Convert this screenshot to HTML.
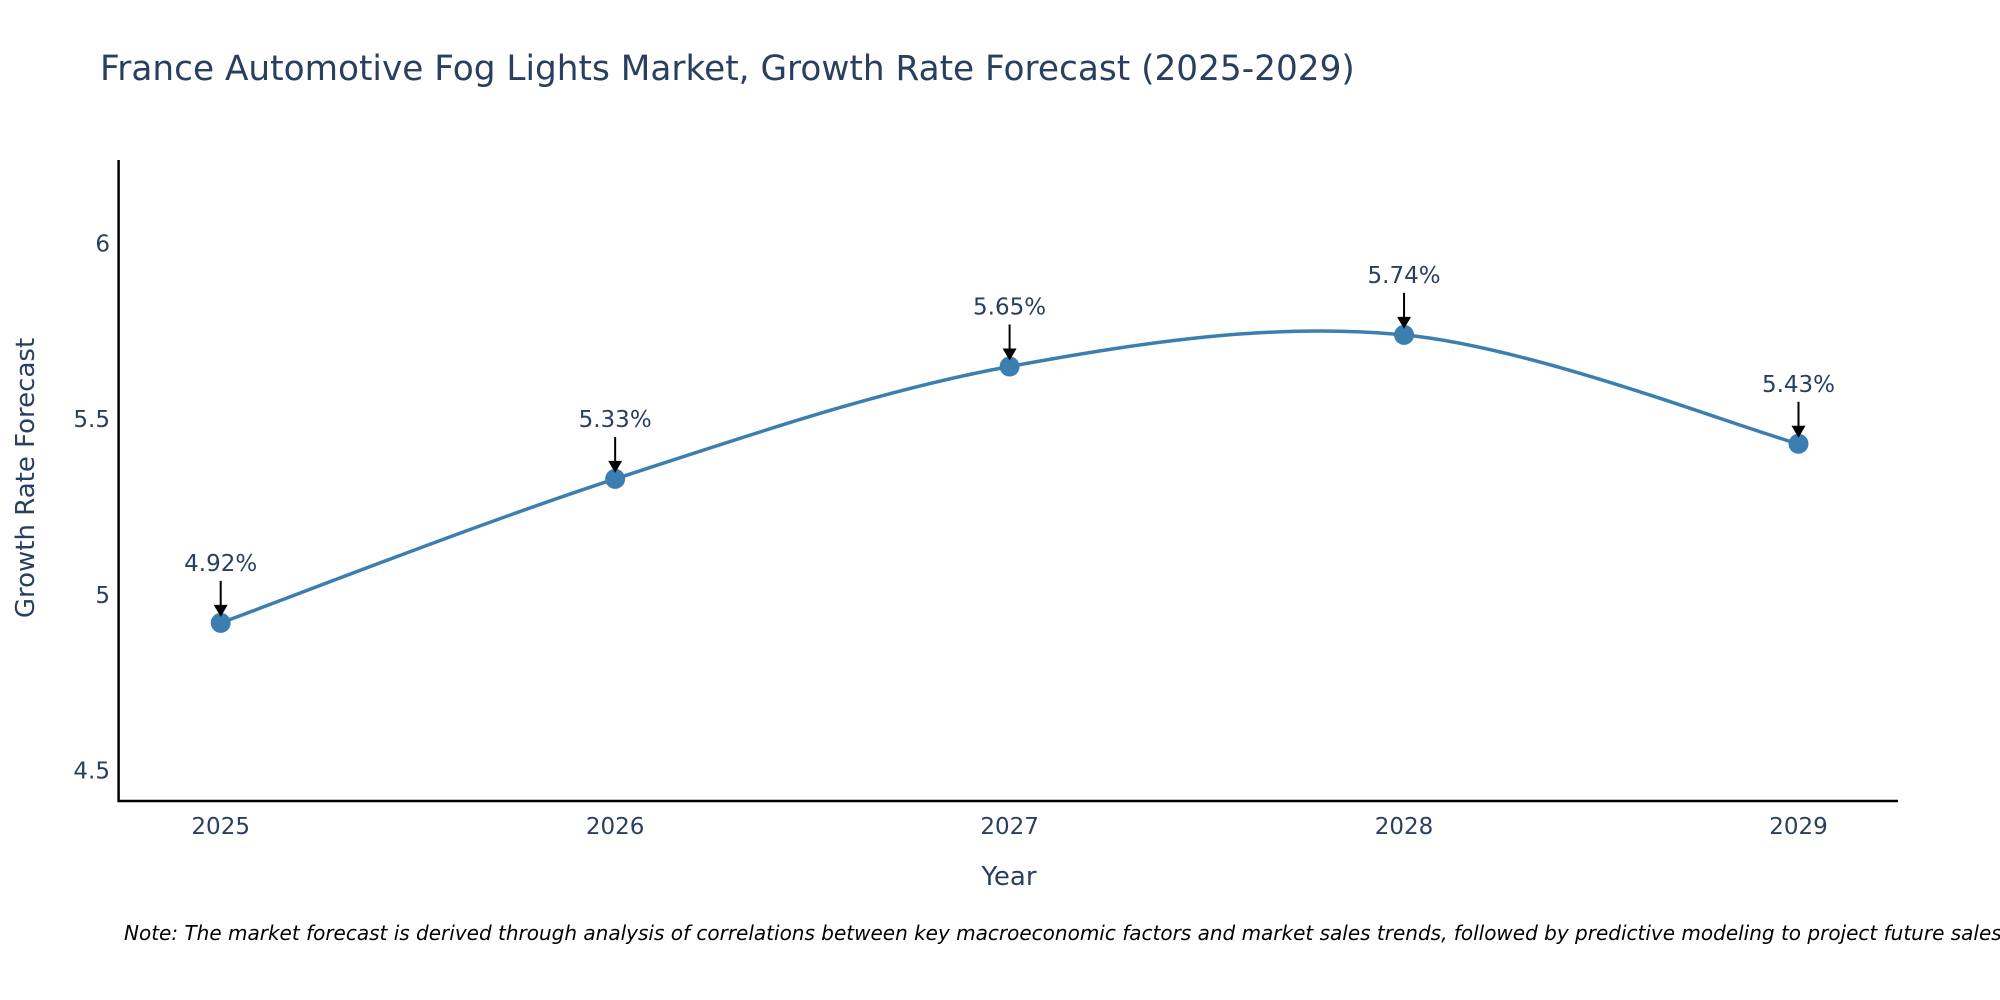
<!DOCTYPE html>
<html><head><meta charset="utf-8"><style>
body{margin:0;background:#fff;overflow:hidden;}
svg{display:block;font-family:"DejaVu Sans","Liberation Sans",sans-serif;}
</style></head><body>
<svg id="chart" width="2000" height="1000" viewBox="0 0 2000 1000">
<text x="100" y="80" font-size="34.3" fill="#2a3f5f">France Automotive Fog Lights Market, Growth Rate Forecast (2025-2029)</text>
<g id="plot"></g>
<text x="1009" y="885" font-size="26" fill="#2a3f5f" text-anchor="middle">Year</text>
<text transform="translate(34,478) rotate(-90)" font-size="26" fill="#2a3f5f" text-anchor="middle">Growth Rate Forecast</text>
<text x="124" y="940" font-size="20" font-style="italic" fill="#000">Note: The market forecast is derived through analysis of correlations between key macroeconomic factors and market sales trends, followed by predictive modeling to project future sales.</text>
</svg>
<script>
const years = [2025, 2026, 2027, 2028, 2029];
const growth = [4.92, 5.33, 5.65, 5.74, 5.43];
const yTicks = [4.5, 5, 5.5, 6];

const NS = 'http://www.w3.org/2000/svg';
const g = document.getElementById('plot');
function X(v){ return 220.7 + (v - 2025) * 394.45; }
function Y(v){ return 243.6 + (6 - v) * 351.2; }
function mk(tag, attrs){ const e = document.createElementNS(NS, tag); for (const k in attrs) e.setAttribute(k, attrs[k]); g.appendChild(e); return e; }

const ax = mk('line', {x1:118.6, y1:160, x2:118.6, y2:802, stroke:'#000', 'stroke-width':2.5});


const bx = mk('line', {x1:117.5, y1:801, x2:1898, y2:801, stroke:'#000', 'stroke-width':2.5});



yTicks.forEach(t => {
  const e = mk('text', {x:110, y:Y(t)+8, 'font-size':23, fill:'#2a3f5f', 'text-anchor':'end'});
  e.textContent = String(t);
  
  
});
years.forEach(t => {
  const e = mk('text', {x:X(t), y:834, 'font-size':23, fill:'#2a3f5f', 'text-anchor':'middle'});
  e.textContent = String(t);
  
  
});

const pts = years.map((y, i) => [X(y), Y(growth[i])]);
let d = 'M' + pts[0][0] + ',' + pts[0][1];
const s = 1/6;
for (let i = 0; i < pts.length - 1; i++) {
  const p0 = pts[i-1] || pts[i], p1 = pts[i], p2 = pts[i+1], p3 = pts[i+2] || pts[i+1];
  const c1 = [p1[0] + (p2[0]-p0[0])*s, p1[1] + (p2[1]-p0[1])*s];
  const c2 = [p2[0] - (p3[0]-p1[0])*s, p2[1] - (p3[1]-p1[1])*s];
  d += ' C' + c1 + ' ' + c2 + ' ' + p2;
}
const line = mk('path', {d:d, fill:'none', stroke:'#3a7fb0', 'stroke-width':3.5});



pts.forEach((p, i) => {
  const c = mk('circle', {cx:p[0], cy:p[1], r:10, fill:'#3a7fb0'});
  
  
  const a = mk('line', {x1:p[0], y1:p[1]-42, x2:p[0], y2:p[1]-16, stroke:'#000', 'stroke-width':2});
  
  
  const h = mk('polygon', {points:(p[0]-7)+','+(p[1]-18)+' '+(p[0]+7)+','+(p[1]-18)+' '+p[0]+','+(p[1]-6), fill:'#000'});
  
  
  const t = mk('text', {x:p[0], y:p[1]-52, 'font-size':23, fill:'#2a3f5f', 'text-anchor':'middle'});
  t.textContent = growth[i].toFixed(2) + '%';
  
  
});
</script>
</body></html>
